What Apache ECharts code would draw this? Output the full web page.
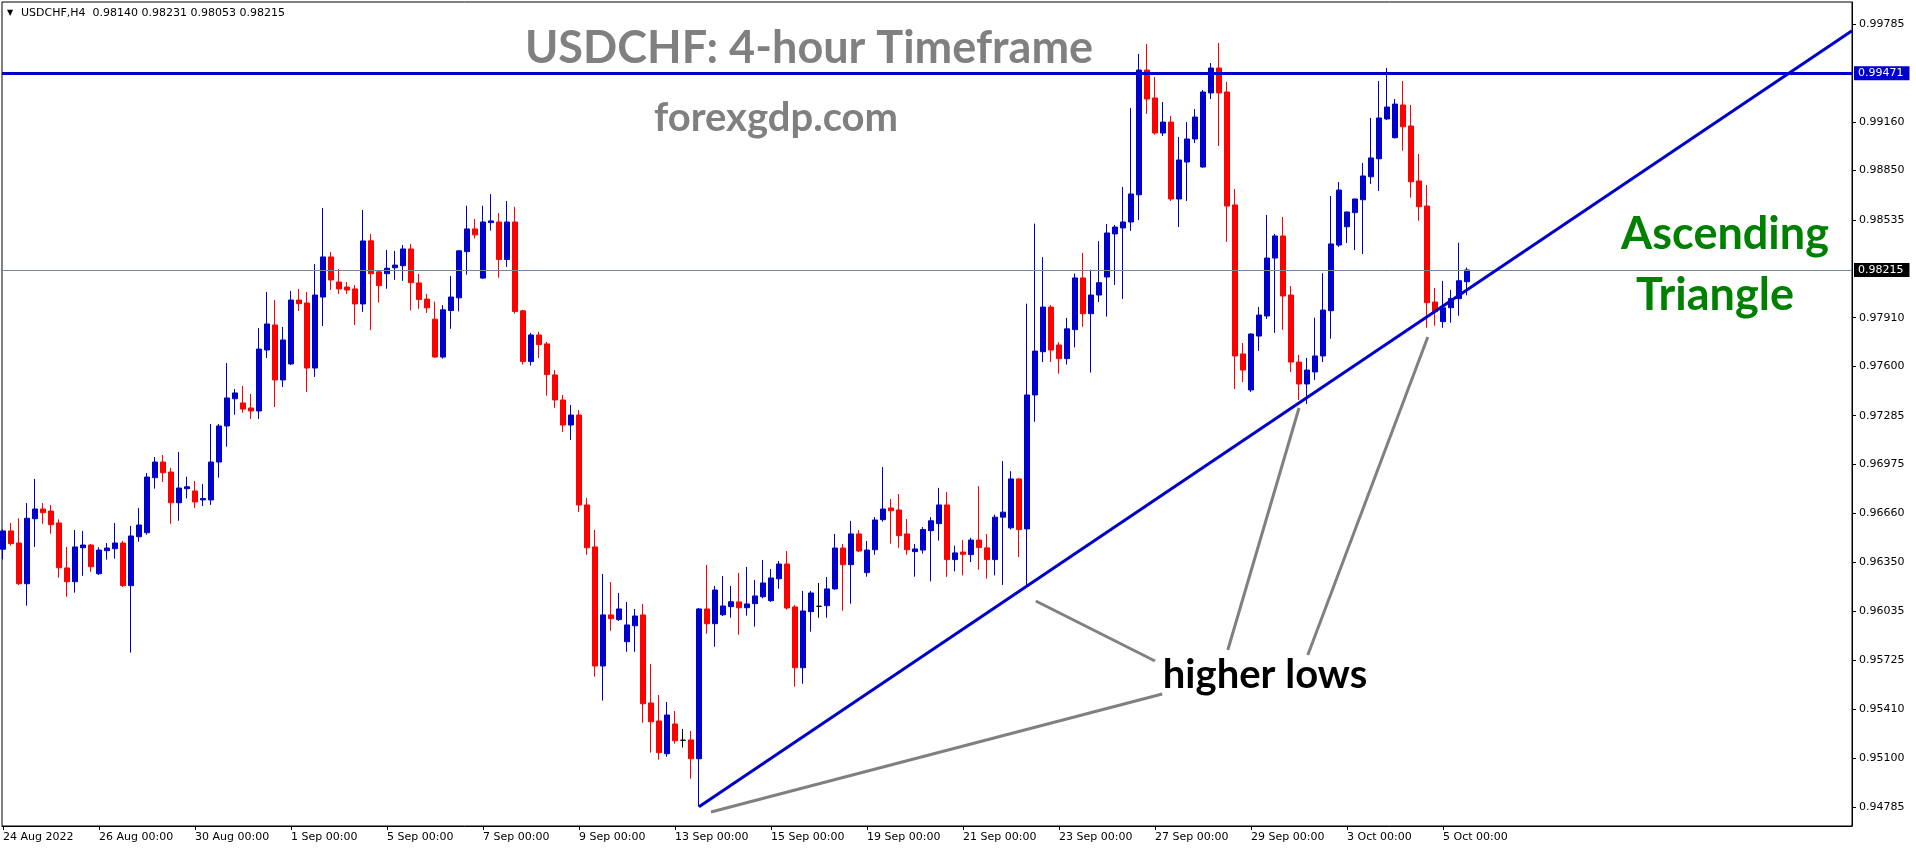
<!DOCTYPE html>
<html><head><meta charset="utf-8">
<script src="https://cdn.jsdelivr.net/npm/echarts@6/dist/echarts.min.js"></script>
<style>html,body{margin:0;padding:0;background:#fff}#c{width:1916px;height:850px}</style>
</head><body><div id="c"></div>
<script>
// USDCHF H4 candles, bar 0 = 24 Aug 2022 00:00 (6 bars per trading day)
const opens = [
0.96432,0.96549,0.96472,0.96212,0.96627,0.96689,0.96676,0.96600,0.96313,0.96225,
0.96442,0.96459,0.96276,0.96423,0.96436,0.96472,0.96200,0.96512,0.96538,0.96889,
0.96989,0.96925,0.96729,0.96819,0.96804,0.96747,0.96747,0.96989,0.97219,0.97393,
0.97366,0.97334,0.97315,0.97704,0.97864,0.97513,0.97615,0.98023,0.98004,0.97589,
0.98042,0.98298,0.98138,0.98106,0.98094,0.97998,0.98401,0.98203,0.98191,0.98229,
0.98242,0.98349,0.98132,0.98029,0.97901,0.97659,0.97956,0.98037,0.98332,0.98477,
0.98163,0.98517,0.98521,0.98282,0.98521,0.97954,0.97631,0.97800,0.97743,0.97545,
0.97385,0.97225,0.97289,0.96715,0.96447,0.95687,0.96013,0.95983,0.95842,0.95944,
0.96013,0.95451,0.95336,0.95127,0.95317,0.95213,0.95215,0.95095,0.96051,0.95957,
0.96014,0.96066,0.96096,0.96059,0.96085,0.96129,0.96104,0.96244,0.96338,0.96064,
0.95676,0.96034,0.96068,0.96072,0.96179,0.96440,0.96334,0.96530,0.96283,0.96429,
0.96621,0.96696,0.96683,0.96530,0.96417,0.96427,0.96551,0.96596,0.96715,0.96366,
0.96414,0.96398,0.96491,0.96441,0.96366,0.96637,0.96569,0.96881,0.96562,0.97417,
0.97693,0.97978,0.97736,0.97649,0.97834,0.98164,0.97936,0.98055,0.98170,0.98445,
0.98483,0.98521,0.98695,0.99491,0.99313,0.99089,0.99159,0.98668,0.98904,0.99051,
0.98872,0.99345,0.99504,0.99351,0.98630,0.97679,0.97449,0.97793,0.97921,0.98291,
0.98432,0.98055,0.97627,0.97487,0.97564,0.97666,0.97955,0.98374,0.98491,0.98581,
0.98663,0.98810,0.98925,0.99179,0.99059,0.99268,0.99134,0.98783,0.98623,0.98010,
0.97885,0.97974,0.98032,0.98140];
const closes = [
0.96549,0.96468,0.96212,0.96630,0.96689,0.96666,0.96589,0.96314,0.96225,0.96447,
0.96459,0.96321,0.96427,0.96440,0.96472,0.96200,0.96517,0.96587,0.96893,0.96989,
0.96921,0.96729,0.96823,0.96831,0.96734,0.96756,0.96989,0.97219,0.97398,0.97430,
0.97327,0.97315,0.97710,0.97870,0.97513,0.97768,0.98023,0.98000,0.97589,0.98055,
0.98298,0.98151,0.98094,0.98087,0.97998,0.98400,0.98191,0.98115,0.98226,0.98246,
0.98349,0.98134,0.98026,0.97973,0.97659,0.97961,0.98042,0.98337,0.98477,0.98439,
0.98521,0.98528,0.98282,0.98521,0.97950,0.97631,0.97800,0.97739,0.97547,0.97385,
0.97225,0.97289,0.96715,0.96442,0.95687,0.96013,0.95989,0.96051,0.95949,0.96006,
0.95446,0.95331,0.95134,0.95374,0.95210,0.95213,0.95095,0.96051,0.95957,0.96172,
0.96070,0.96097,0.96059,0.96083,0.96134,0.96217,0.96249,0.96338,0.96057,0.95676,
0.96038,0.96153,0.96068,0.96179,0.96440,0.96334,0.96530,0.96421,0.96427,0.96619,
0.96689,0.96678,0.96519,0.96429,0.96434,0.96558,0.96614,0.96715,0.96366,0.96409,
0.96400,0.96491,0.96443,0.96366,0.96637,0.96669,0.96881,0.96558,0.97417,0.97697,
0.97978,0.97704,0.97649,0.97839,0.98164,0.97936,0.98055,0.98134,0.98451,0.98489,
0.98521,0.98700,0.99491,0.99306,0.99089,0.99159,0.98668,0.98917,0.99051,0.99191,
0.99351,0.99504,0.99345,0.98623,0.97666,0.97576,0.97806,0.97927,0.98291,0.98432,
0.98049,0.97627,0.97487,0.97576,0.97666,0.97959,0.98381,0.98725,0.98585,0.98668,
0.98815,0.98930,0.99185,0.99255,0.99274,0.99129,0.98778,0.98619,0.98006,0.97949,
0.97974,0.98032,0.98146,0.98215];
const lows = [
0.96368,0.96455,0.96204,0.96072,0.96447,0.96595,0.96531,0.96251,0.96129,0.96155,
0.96263,0.96289,0.96268,0.96366,0.96372,0.96191,0.95772,0.96480,0.96525,0.96819,
0.96861,0.96595,0.96614,0.96757,0.96696,0.96708,0.96715,0.96889,0.97087,0.97291,
0.97304,0.97264,0.97264,0.97653,0.97340,0.97468,0.97608,0.97953,0.97436,0.97532,
0.97857,0.98087,0.98062,0.98062,0.97864,0.97947,0.97831,0.98007,0.98095,0.98152,
0.98145,0.97956,0.97967,0.97941,0.97655,0.97649,0.97839,0.97950,0.98185,0.98416,
0.98159,0.98466,0.98165,0.98235,0.97936,0.97611,0.97605,0.97653,0.97413,0.97334,
0.97181,0.97130,0.96670,0.96397,0.95619,0.95466,0.95912,0.95974,0.95778,0.95778,
0.95325,0.95134,0.95089,0.95108,0.95191,0.95166,0.94968,0.94789,0.95893,0.95810,
0.96006,0.95995,0.95887,0.96008,0.95938,0.96119,0.96096,0.96180,0.96046,0.95555,
0.95574,0.95906,0.95995,0.95995,0.96174,0.96040,0.96085,0.96415,0.96257,0.96397,
0.96608,0.96468,0.96442,0.96397,0.96257,0.96404,0.96227,0.96487,0.96256,0.96291,
0.96265,0.96350,0.96302,0.96245,0.96265,0.96204,0.96558,0.96382,0.96204,0.97246,
0.97627,0.97627,0.97553,0.97611,0.97720,0.97852,0.97560,0.98010,0.97917,0.98119,
0.98030,0.98464,0.98534,0.99211,0.99078,0.99070,0.98655,0.98489,0.98655,0.99025,
0.98868,0.99306,0.99006,0.98394,0.97455,0.97500,0.97436,0.97698,0.97902,0.97813,
0.97832,0.97564,0.97385,0.97359,0.97513,0.97627,0.97776,0.98362,0.98387,0.98342,
0.98317,0.98764,0.98719,0.99172,0.99055,0.98976,0.98676,0.98529,0.97846,0.97859,
0.97846,0.97878,0.97923,0.98053];
const highs = [
0.96560,0.96600,0.96630,0.96727,0.96881,0.96727,0.96715,0.96623,0.96447,0.96555,
0.96549,0.96466,0.96445,0.96472,0.96600,0.96485,0.96581,0.96696,0.96919,0.97021,
0.97034,0.96951,0.97053,0.96895,0.96868,0.96849,0.97232,0.97232,0.97621,0.97455,
0.97474,0.97423,0.97845,0.98074,0.98023,0.97851,0.98081,0.98094,0.98074,0.98253,
0.98611,0.98330,0.98221,0.98138,0.98119,0.98598,0.98444,0.98214,0.98343,0.98337,
0.98374,0.98381,0.98189,0.98062,0.98013,0.97991,0.98176,0.98340,0.98625,0.98541,
0.98625,0.98699,0.98578,0.98655,0.98618,0.97961,0.97813,0.97820,0.97756,0.97576,
0.97417,0.97353,0.97321,0.96759,0.96555,0.96274,0.96223,0.96153,0.96096,0.96051,
0.96083,0.95700,0.95502,0.95457,0.95400,0.95285,0.95272,0.96057,0.96332,0.96198,
0.96261,0.96198,0.96281,0.96319,0.96236,0.96364,0.96306,0.96357,0.96421,0.96076,
0.96166,0.96166,0.96217,0.96255,0.96530,0.96466,0.96613,0.96555,0.96485,0.96638,
0.96957,0.96753,0.96785,0.96625,0.96466,0.96574,0.96637,0.96824,0.96797,0.96455,
0.96491,0.96505,0.96835,0.96530,0.96653,0.96995,0.96931,0.96885,0.98000,0.98511,
0.98297,0.97991,0.97754,0.97909,0.98192,0.98324,0.98217,0.98399,0.98508,0.98502,
0.98745,0.99249,0.99594,0.99657,0.99447,0.99287,0.99198,0.99064,0.99159,0.99242,
0.99364,0.99536,0.99664,0.99415,0.98732,0.97749,0.97810,0.97979,0.98566,0.98445,
0.98553,0.98113,0.97672,0.97653,0.97910,0.98194,0.98687,0.98776,0.98588,0.98670,
0.98898,0.99185,0.99421,0.99504,0.99306,0.99421,0.99268,0.98955,0.98757,0.98100,
0.98145,0.98087,0.98389,0.98231];

// time axis labels: every 12 bars (2 trading days)
const tickBars = [0,12,24,36,48,60,72,84,96,108,120,132,144,156,168,180];
const tickLabels = ['24 Aug 2022','26 Aug 00:00','30 Aug 00:00','1 Sep 00:00','5 Sep 00:00','7 Sep 00:00',
  '9 Sep 00:00','13 Sep 00:00','15 Sep 00:00','19 Sep 00:00','21 Sep 00:00','23 Sep 00:00',
  '27 Sep 00:00','29 Sep 00:00','3 Oct 00:00','5 Oct 00:00'];
// price scale labels
const priceTicks = [0.94785,0.95100,0.95410,0.95725,0.96035,0.96350,0.96660,0.96975,0.97285,
  0.97600,0.97910,0.98535,0.98850,0.99160,0.99785];
const priceMin = 0.946656, priceMax = 0.999254;
const barMin = -0.125, barMax = 231.125;

const resistance = 0.99471;
const lastPrice = 0.98215;
// support trend line [bar index, price]
const trendLine = [[87, 0.94789], [231.125, 0.99742]];
// "higher lows" pointer lines [bar index, price]
const pointer1 = [[129.1, 0.96102], [144.0, 0.95719]];
const pointer2 = [[88.5, 0.94755], [144.9, 0.95508]];
const pointer3 = [[153.1, 0.95789], [162.0, 0.97334]];
const pointer4 = [[163.1, 0.95757], [178.1, 0.97787]];

const FONT = 'DejaVu Sans';
const BLUE = '#0000cd';
const candleData = opens.map((o, i) => [i, o, closes[i], lows[i], highs[i]]);

function pointerSeries(d) {
  return {type:'line', data:d, symbol:'none', silent:true, z:4,
    lineStyle:{color:'#808080', width:3}};
}

const chart = echarts.init(document.getElementById('c'), null, {renderer:'canvas'});
chart.setOption({
  animation:false,
  backgroundColor:'#ffffff',
  grid:{left:2, top:2, right:64, bottom:24, show:true, borderColor:'#000', borderWidth:1, backgroundColor:'#fff'},
  xAxis:{type:'value', min:barMin, max:barMax,
    axisLine:{show:true, onZero:false, lineStyle:{color:'#000', width:1}},
    axisTick:{show:true, customValues:tickBars, length:4, lineStyle:{color:'#000'}},
    axisLabel:{show:true, customValues:tickBars, align:'left', margin:6, color:'#000', fontFamily:FONT, fontSize:11,
      formatter:v => tickLabels[tickBars.indexOf(Math.round(v))] || ''},
    splitLine:{show:false}},
  yAxis:{type:'value', position:'right', min:priceMin, max:priceMax,
    axisLine:{show:true, onZero:false, lineStyle:{color:'#000', width:1}},
    axisTick:{show:true, customValues:priceTicks, length:4, lineStyle:{color:'#000'}},
    axisLabel:{show:true, customValues:priceTicks, margin:7, color:'#000', fontFamily:FONT, fontSize:11,
      formatter:v => Number(v).toFixed(5)},
    splitLine:{show:false}},
  series:[
    {type:'candlestick', data:candleData, encode:{x:0, y:[1,2,3,4]}, barWidth:5, silent:true, clip:true,
      itemStyle:{color:BLUE, color0:'#ff0000', borderColor:BLUE, borderColor0:'#ff0000', borderColorDoji:'#000', borderWidth:1},
      markLine:{symbol:['none','none'], silent:true, animation:false, precision:5,
        data:[
          {yAxis:resistance, lineStyle:{color:BLUE, width:3, type:'solid'},
            label:{show:true, position:'end', distance:2, formatter:() => resistance.toFixed(5), color:'#fff',
              backgroundColor:BLUE, padding:[2,6,1,4], fontFamily:FONT, fontSize:11}},
          {yAxis:lastPrice, lineStyle:{color:'#778899', width:1, type:'solid'},
            label:{show:true, position:'end', distance:2, formatter:() => lastPrice.toFixed(5), color:'#fff',
              backgroundColor:'#000', padding:[2,6,1,4], fontFamily:FONT, fontSize:11}}
        ]}},
    {type:'line', data:trendLine, symbol:'none', silent:true, z:5, lineStyle:{color:BLUE, width:3}},
    pointerSeries(pointer1), pointerSeries(pointer2), pointerSeries(pointer3), pointerSeries(pointer4)
  ],
  graphic:[
    {type:'text', x:7, y:13, z:10, style:{text:'▼', fill:'#000', font:'8px "DejaVu Sans"', align:'left', verticalAlign:'middle'}},
    {type:'text', x:21, y:13, z:10, style:{text:'USDCHF,H4  0.98140 0.98231 0.98053 0.98215', fill:'#000', font:'11px "DejaVu Sans"', align:'left', verticalAlign:'middle'}},
    {type:'text', x:809, y:48, z:10, style:{text:'USDCHF: 4-hour Timeframe', fill:'#808080', font:'bold 45px Lato', align:'center', verticalAlign:'middle'}},
    {type:'text', x:776, y:118, z:10, style:{text:'forexgdp.com', fill:'#808080', font:'bold 40px Lato', align:'center', verticalAlign:'middle'}},
    {type:'text', x:1725, y:234, z:10, style:{text:'Ascending', fill:'#008000', font:'bold 45px Lato', align:'center', verticalAlign:'middle'}},
    {type:'text', x:1715, y:295, z:10, style:{text:'Triangle', fill:'#008000', font:'bold 45px Lato', align:'center', verticalAlign:'middle'}},
    {type:'text', x:1265, y:675, z:10, style:{text:'higher lows', fill:'#000', font:'bold 40px Lato', align:'center', verticalAlign:'middle'}}
  ]
});
</script></body></html>
